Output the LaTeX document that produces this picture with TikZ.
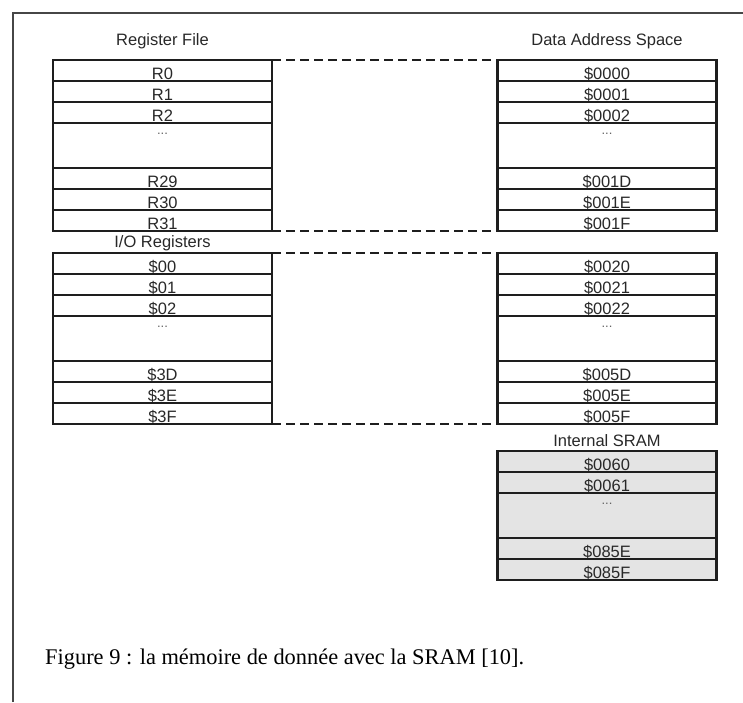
\documentclass[tikz,border=0pt]{standalone}
\usepackage{fontspec}
\setmainfont{Liberation Serif}
\setsansfont{Liberation Sans}
\usetikzlibrary{positioning}
\definecolor{RegLine}{RGB}{30,30,30}
\definecolor{RegText}{RGB}{40,40,40}
\definecolor{DotGray}{RGB}{100,100,100}
\definecolor{FrameGray}{RGB}{70,70,70}
\definecolor{SramGray}{RGB}{228,228,228}

\begin{document}
\begin{tikzpicture}[
  x=1pt, y=1pt,
  node distance=0pt,
  every node/.style={font=\sffamily\fontsize{16.5}{18}\selectfont, text=RegText},
  regrow/.style={draw=RegLine, line width=2pt, minimum width=219pt, minimum height=21pt, inner sep=0pt, outer sep=0pt, text height=18pt, text depth=0pt},
  dotrow/.style={regrow, minimum height=45pt, text height=0pt, text depth=23pt, font=\sffamily\fontsize{13}{14}\selectfont, text=DotGray},
  sramrow/.style={regrow, fill=SramGray},
  dotsram/.style={dotrow, fill=SramGray},
  blockframe/.style={draw=RegLine, line width=2.8pt},
  blocktitle/.style={anchor=base, inner sep=0pt},
  link/.style={draw=RegLine, line width=1.1pt, dash pattern=on 9pt off 5pt},
  pageframe/.style={draw=FrameGray, line width=1.5pt}
]
\useasboundingbox (0,0) rectangle (743,-702);

% page frame
\draw[pageframe] (13,-702) -- (13,-13) -- (743,-13);

% Register File
\node[regrow] (r0) at (162.5,-70.5) {R0};
\node[regrow, below=of r0] (r1) {R1};
\node[regrow, below=of r1] (r2) {R2};
\node[dotrow, below=of r2] (rdots) {...};
\node[regrow, below=of rdots] (r29) {R29};
\node[regrow, below=of r29] (r30) {R30};
\node[regrow, below=of r30] (r31) {R31};
\node[above=15pt of r0.north, blocktitle] (rftitle) {Register File};

% Data Address Space, low part
\node[regrow] (a0000) at (607,-70.5) {\$0000};
\node[regrow, below=of a0000] (a0001) {\$0001};
\node[regrow, below=of a0001] (a0002) {\$0002};
\node[dotrow, below=of a0002] (adots1) {...};
\node[regrow, below=of adots1] (a001D) {\$001D};
\node[regrow, below=of a001D] (a001E) {\$001E};
\node[regrow, below=of a001E] (a001F) {\$001F};
\node[above=15pt of a0000.north, blocktitle] (dastitle) {Data Address Space};

% I/O Registers
\node[regrow] (io00) at (162.5,-263.5) {\$00};
\node[regrow, below=of io00] (io01) {\$01};
\node[regrow, below=of io01] (io02) {\$02};
\node[dotrow, below=of io02] (iodots) {...};
\node[regrow, below=of iodots] (io3D) {\$3D};
\node[regrow, below=of io3D] (io3E) {\$3E};
\node[regrow, below=of io3E] (io3F) {\$3F};
\node[above=6pt of io00.north, blocktitle] (iotitle) {I/O Registers};

% Data Address Space, I/O part
\node[regrow] (a0020) at (607,-263.5) {\$0020};
\node[regrow, below=of a0020] (a0021) {\$0021};
\node[regrow, below=of a0021] (a0022) {\$0022};
\node[dotrow, below=of a0022] (adots2) {...};
\node[regrow, below=of adots2] (a005D) {\$005D};
\node[regrow, below=of a005D] (a005E) {\$005E};
\node[regrow, below=of a005E] (a005F) {\$005F};

% Internal SRAM
\node[sramrow] (s0060) at (607,-461.5) {\$0060};
\node[sramrow, below=of s0060] (s0061) {\$0061};
\node[dotsram, below=of s0061] (sdots) {...};
\node[sramrow, below=of sdots] (s085E) {\$085E};
\node[sramrow, below=of s085E] (s085F) {\$085F};
\node[above=4.5pt of s0060.north, blocktitle] (sramtitle) {Internal SRAM};

% outer frames
\draw[blockframe] (r0.north west) rectangle (r31.south east);
\draw[blockframe] (a0000.north west) rectangle (a001F.south east);
\draw[blockframe] (io00.north west) rectangle (io3F.south east);
\draw[blockframe] (a0020.north west) rectangle (a005F.south east);
\draw[blockframe] (s0060.north west) rectangle (s085F.south east);

% mapping
\draw[link] (r0.north east) -- (a0000.north west);
\draw[link] (r31.south east) -- (a001F.south west);
\draw[link] (io00.north east) -- (a0020.north west);
\draw[link] (io3F.south east) -- (a005F.south west);

% caption
\node[anchor=base west, inner sep=0pt, font=\rmfamily\fontsize{22.4}{26}\selectfont, text=black] (caption) at (45,-664) {Figure 9 : la mémoire de donnée avec la SRAM [10].};
\end{tikzpicture}
\end{document}
